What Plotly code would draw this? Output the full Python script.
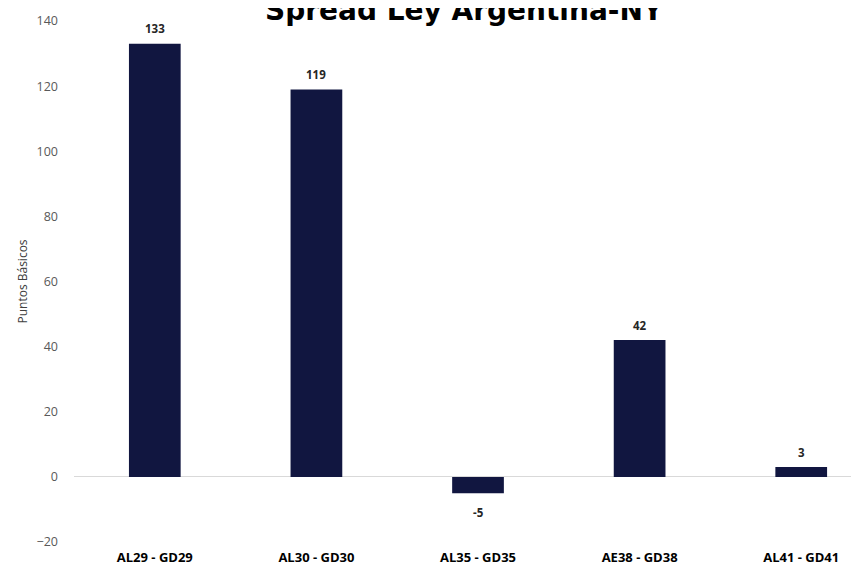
import plotly.graph_objects as go

categories = ["AL29 - GD29", "AL30 - GD30", "AL35 - GD35", "AE38 - GD38", "AL41 - GD41"]
spread_bp = [133, 119, -5, 42, 3]
y_ticks = [-20, 0, 20, 40, 60, 80, 100, 120, 140]

fig = go.Figure()
fig.add_trace(go.Bar(
    x=categories,
    y=spread_bp,
    width=0.32,
    marker=dict(color="#111640", line=dict(width=0)),
))

for cat, val in zip(categories, spread_bp):
    fig.add_annotation(
        x=cat, y=val, text=f"<b>{val}</b>",
        xref="x", yref="y", showarrow=False,
        yanchor="middle", yshift=15 if val >= 0 else -19,
        font=dict(family="Open Sans", size=11.5, color="#262626"),
    )

fig.update_layout(
    width=859, height=568,
    margin=dict(l=66, r=0, t=13, b=34),
    paper_bgcolor="white", plot_bgcolor="white",
    showlegend=False,
    font=dict(family="Open Sans"),
)
fig.update_xaxes(
    range=[-0.5, 4.407],
    showgrid=False, showline=False, zeroline=False, ticks="",
    tickfont=dict(family="Open Sans", size=13, color="#000000", weight="bold"),
    ticklabelstandoff=6,
)
fig.update_yaxes(
    range=[-20, 140],
    tickvals=y_ticks,
    showgrid=False, showline=False,
    zeroline=True, zerolinecolor="#d9d9d9", zerolinewidth=1,
    tickfont=dict(family="Open Sans", size=12.5, color="#595959"),
    ticklabelstandoff=15,
    title=dict(text="Puntos Básicos", font=dict(family="Open Sans", size=12, color="#404040"), standoff=6),
)
fig.add_annotation(
    text="<b>Spread Ley Argentina-NY</b>",
    xref="paper", yref="paper", x=0.493, y=1.021,
    xanchor="center", yanchor="middle",
    showarrow=False,
    font=dict(family="DejaVu Sans", size=28, color="#000000"),
)

fig.write_html("out.html")
